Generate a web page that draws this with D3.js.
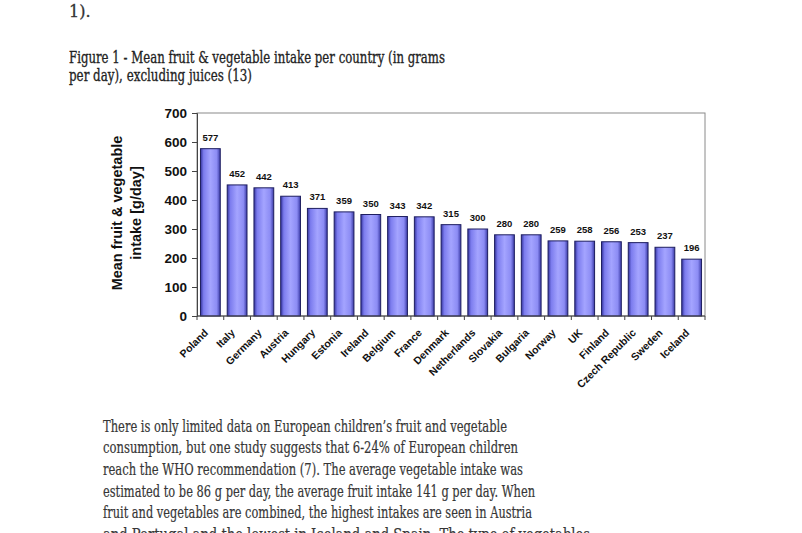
<!DOCTYPE html>
<meta charset="utf-8">
<script src="https://d3js.org/d3.v7.min.js"></script>
<style>
  body { margin: 0; background: #fff; }
  .serif { font-family: "DejaVu Serif", "Liberation Serif", serif; }
  .sans { font-family: Arial, "Liberation Sans", sans-serif; font-weight: bold; }
</style>
<div id="my_dataviz"></div>
<script>

  // data
  var countries = ["Poland", "Italy", "Germany", "Austria", "Hungary", "Estonia", "Ireland",
                   "Belgium", "France", "Denmark", "Netherlands", "Slovakia", "Bulgaria",
                   "Norway", "UK", "Finland", "Czech Republic", "Sweden", "Iceland"];
  var intake = [577, 452, 442, 413, 371, 359, 350, 343, 342, 315, 300, 280, 280,
                259, 258, 256, 253, 237, 196];
  var yTicks = [0, 100, 200, 300, 400, 500, 600, 700];

  var titleLines = ["Figure 1 - Mean fruit & vegetable intake per country (in grams",
                    "per day), excluding juices (13)"];
  var yTitleLines = ["Mean fruit & vegetable", "intake [g/day]"];
  var bodyLines = [
    "There is only limited data on European children\u2019s fruit and vegetable",
    "consumption, but one study suggests that 6-24% of European children",
    "reach the WHO recommendation (7). The average vegetable intake was",
    "estimated to be 86 g per day, the average fruit intake 141 g per day. When",
    "fruit and vegetables are combined, the highest intakes are seen in Austria",
    "and Portugal and the lowest in Iceland and Spain. The type of vegetables"
  ];
  var bodyWidths = [404, 415, 420, 432, 429, 487];

  var W = 802, H = 533;
  var plot = {left: 197, right: 705, top: 113, bottom: 316};

  var svg = d3.select("#my_dataviz")
    .append("svg")
      .attr("width", W)
      .attr("height", H);

  // bar gradient (Excel cylinder look)
  var grad = svg.append("defs").append("linearGradient")
      .attr("id", "barGrad")
      .attr("x1", "0%").attr("x2", "100%").attr("y1", "0%").attr("y2", "0%");
  [["0%", "#34349e"], ["16%", "#7c7cee"], ["50%", "#a4a4ff"], ["82%", "#8c8cf4"], ["100%", "#3a3aa6"]]
    .forEach(function (s) { grad.append("stop").attr("offset", s[0]).attr("stop-color", s[1]); });

  // page text above
  svg.append("text").attr("class", "serif")
    .attr("x", 69).attr("y", 17)
    .attr("font-size", 16).attr("fill", "#333")
    .attr("stroke", "#333").attr("stroke-width", 0.3)
    .text("1).");

  svg.selectAll(".title")
    .data(titleLines)
    .enter()
    .append("text")
      .attr("class", "serif title")
      .attr("x", 69)
      .attr("y", function (d, i) { return 63 + i * 18; })
      .attr("font-size", 17)
      .attr("fill", "#222")
      .attr("stroke", "#222")
      .attr("stroke-width", 0.35)
      .attr("textLength", function (d, i) { return i === 0 ? 376 : 183; })
      .attr("lengthAdjust", "spacingAndGlyphs")
      .text(function (d) { return d; });

  // scales
  var x = d3.scaleBand()
    .domain(countries)
    .range([plot.left, plot.right])
    .paddingInner(0.26)
    .paddingOuter(0.13);

  var y = d3.scaleLinear()
    .domain([0, 700])
    .range([plot.bottom, plot.top]);

  // plot area frame
  svg.append("rect")
    .attr("x", plot.left).attr("y", plot.top)
    .attr("width", plot.right - plot.left)
    .attr("height", plot.bottom - plot.top)
    .attr("fill", "none")
    .attr("stroke", "#8a8a8a")
    .attr("stroke-width", 1);

  // bars
  svg.append("g")
    .selectAll("rect")
    .data(intake)
    .enter()
    .append("rect")
      .attr("x", function (d, i) { return x(countries[i]); })
      .attr("y", function (d) { return y(d); })
      .attr("width", x.bandwidth())
      .attr("height", function (d) { return y(0) - y(d); })
      .attr("fill", "url(#barGrad)")
      .attr("stroke", "#1e1e60")
      .attr("stroke-width", 1);

  // value labels
  svg.append("g")
    .selectAll("text")
    .data(intake)
    .enter()
    .append("text")
      .attr("class", "sans")
      .attr("x", function (d, i) { return x(countries[i]) + x.bandwidth() / 2; })
      .attr("y", function (d) { return y(d) - 8; })
      .attr("text-anchor", "middle")
      .attr("font-size", 9.5)
      .attr("fill", "#111")
      .text(function (d) { return d; });

  // Y axis
  var yAxis = svg.append("g")
    .attr("transform", "translate(" + plot.left + ",0)")
    .call(d3.axisLeft(y).tickValues(yTicks).tickSize(5).tickPadding(5));
  yAxis.select(".domain").attr("stroke", "#444");
  yAxis.selectAll(".tick line").attr("stroke", "#444");
  yAxis.selectAll("text")
    .attr("class", "sans")
    .attr("font-size", 13.5)
    .attr("fill", "#111");

  // X axis: ticks at category boundaries
  var xBase = svg.append("g")
    .attr("transform", "translate(0," + plot.bottom + ")");
  xBase.append("line")
    .attr("x1", plot.left).attr("x2", plot.right)
    .attr("stroke", "#444");
  xBase.selectAll(".xt")
    .data(countries.concat(["end"]))
    .enter()
    .append("line")
      .attr("class", "xt")
      .attr("x1", function (d, i) { return plot.left + i * (plot.right - plot.left) / countries.length; })
      .attr("x2", function (d, i) { return plot.left + i * (plot.right - plot.left) / countries.length; })
      .attr("y1", 0).attr("y2", 4)
      .attr("stroke", "#444");

  xBase.selectAll(".xl")
    .data(countries)
    .enter()
    .append("text")
      .attr("class", "sans xl")
      .attr("transform", function (d) {
        return "translate(" + (x(d) + x.bandwidth() / 2 - 6) + ",13) rotate(-45)";
      })
      .attr("text-anchor", "end")
      .attr("dy", "0.6em")
      .attr("font-size", 10.5)
      .attr("fill", "#111")
      .text(function (d) { return d; });

  // Y axis title
  svg.selectAll(".ytitle")
    .data(yTitleLines)
    .enter()
    .append("text")
      .attr("class", "sans ytitle")
      .attr("transform", function (d, i) {
        return "translate(" + (122 + i * 19) + ",213) rotate(-90)";
      })
      .attr("text-anchor", "middle")
      .attr("font-size", 14.5)
      .attr("fill", "#111")
      .text(function (d) { return d; });

  // body paragraph (last line runs off the bottom, as on the page)
  svg.selectAll(".body")
    .data(bodyLines)
    .enter()
    .append("text")
      .attr("class", "serif body")
      .attr("x", 103)
      .attr("y", function (d, i) { return 431.7 + i * 21.67; })
      .attr("font-size", 16.5)
      .attr("fill", "#363636")
      .attr("stroke", "#363636")
      .attr("stroke-width", 0.2)
      .attr("textLength", function (d, i) { return bodyWidths[i]; })
      .attr("lengthAdjust", "spacingAndGlyphs")
      .text(function (d) { return d; });

</script>
